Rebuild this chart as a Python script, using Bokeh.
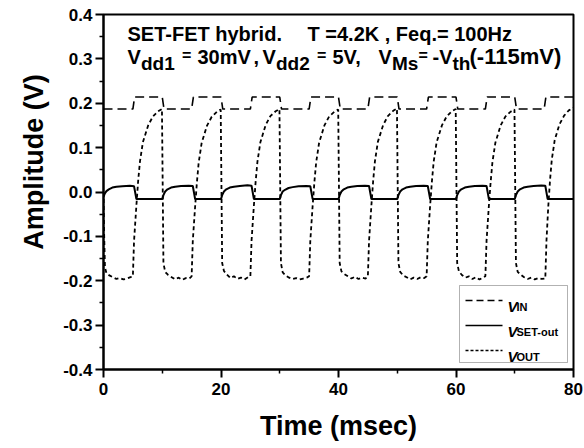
from bokeh.plotting import figure
from bokeh.models import Range1d, FixedTicker, PrintfTickFormatter, Label, BoxAnnotation, Arrow
from bokeh.embed import file_html
from bokeh.resources import INLINE

# ---------------- data ----------------
x_ticks = [0, 20, 40, 60, 80]
x_minor = [10, 30, 50, 70]
y_ticks = [-0.4, -0.3, -0.2, -0.1, 0.0, 0.1, 0.2, 0.3, 0.4]
y_minor = [-0.35, -0.25, -0.15, -0.05, 0.05, 0.15, 0.25, 0.35]

# V_IN (dashed square wave)
t_in = [0.0, 5.0, 5.3, 10.0, 10.3, 15.0, 15.3, 20.0, 20.3, 25.0, 25.3, 30.0, 30.3,
        35.0, 35.3, 40.0, 40.3, 45.0, 45.3, 50.0, 50.3, 55.0, 55.3, 60.0, 60.3,
        65.0, 65.3, 70.0, 70.3, 75.0, 75.3, 80.0]
v_in = [0.187, 0.187, 0.214, 0.214, 0.187, 0.187, 0.214, 0.214, 0.187, 0.187, 0.214, 0.214, 0.187,
        0.187, 0.214, 0.214, 0.187, 0.187, 0.214, 0.214, 0.187, 0.187, 0.214, 0.214, 0.187,
        0.187, 0.214, 0.214, 0.187, 0.187, 0.214, 0.214]

# V_SET-out (solid)
t_set = [0.0, 0.2, 0.5, 0.9, 1.5, 2.2, 3.2, 4.5, 5.2, 5.6,
         10.0, 10.2, 10.5, 10.9, 11.5, 12.2, 13.2, 14.5, 15.2, 15.6,
         20.0, 20.2, 20.5, 20.9, 21.5, 22.2, 23.2, 24.5, 25.2, 25.6,
         30.0, 30.2, 30.5, 30.9, 31.5, 32.2, 33.2, 34.5, 35.2, 35.6,
         40.0, 40.2, 40.5, 40.9, 41.5, 42.2, 43.2, 44.5, 45.2, 45.6,
         50.0, 50.2, 50.5, 50.9, 51.5, 52.2, 53.2, 54.5, 55.2, 55.6,
         60.0, 60.2, 60.5, 60.9, 61.5, 62.2, 63.2, 64.5, 65.2, 65.6,
         70.0, 70.2, 70.5, 70.9, 71.5, 72.2, 73.2, 74.5, 75.2, 75.6,
         80.0]
v_set = [-0.011, -0.004, 0.002, 0.006, 0.010, 0.012, 0.013, 0.014, 0.013, -0.016,
         -0.016, -0.007, 0.001, 0.006, 0.010, 0.012, 0.0135, 0.014, 0.0135, -0.016,
         -0.016, -0.007, 0.001, 0.006, 0.010, 0.012, 0.0135, 0.015, 0.014, -0.016,
         -0.016, -0.007, 0.001, 0.005, 0.009, 0.011, 0.013, 0.0135, 0.013, -0.016,
         -0.016, -0.007, 0.001, 0.006, 0.010, 0.012, 0.0135, 0.014, 0.0135, -0.016,
         -0.016, -0.007, 0.001, 0.006, 0.010, 0.012, 0.0135, 0.014, 0.0135, -0.016,
         -0.016, -0.007, 0.001, 0.006, 0.010, 0.012, 0.0135, 0.014, 0.0135, -0.016,
         -0.016, -0.007, 0.001, 0.006, 0.010, 0.012, 0.0135, 0.0145, 0.014, -0.016,
         -0.016]

# V_OUT (dotted)
t_out = [0.0, 0.1, 0.25, 0.5, 1.0, 1.6, 2.2, 2.8, 3.4, 4.0, 4.6, 5.0,
         5.2, 5.6, 5.9, 6.2, 6.7, 7.6, 8.4, 9.3, 9.95,
         10.05, 10.2, 10.5, 11.0, 11.6, 12.2, 12.8, 13.4, 14.0, 14.6, 15.0,
         15.2, 15.6, 15.9, 16.2, 16.7, 17.6, 18.4, 19.3, 19.95,
         20.05, 20.2, 20.5, 21.0, 21.6, 22.2, 22.8, 23.4, 24.0, 24.6, 25.0,
         25.2, 25.6, 25.9, 26.2, 26.7, 27.6, 28.4, 29.3, 29.95,
         30.05, 30.2, 30.5, 31.0, 31.6, 32.2, 32.8, 33.4, 34.0, 34.6, 35.0,
         35.2, 35.6, 35.9, 36.2, 36.7, 37.6, 38.4, 39.3, 39.95,
         40.05, 40.2, 40.5, 41.0, 41.6, 42.2, 42.8, 43.4, 44.0, 44.6, 45.0,
         45.2, 45.6, 45.9, 46.2, 46.7, 47.6, 48.4, 49.3, 49.95,
         50.05, 50.2, 50.5, 51.0, 51.6, 52.2, 52.8, 53.4, 54.0, 54.6, 55.0,
         55.2, 55.6, 55.9, 56.2, 56.7, 57.6, 58.4, 59.3, 59.95,
         60.05, 60.2, 60.5, 61.0, 61.6, 62.2, 62.8, 63.4, 64.0, 64.6, 65.0,
         65.2, 65.6, 65.9, 66.2, 66.7, 67.6, 68.4, 69.3, 69.95,
         70.05, 70.2, 70.5, 71.0, 71.6, 72.2, 72.8, 73.4, 74.0, 74.6, 75.2,
         75.4, 75.7, 76.0, 76.3, 76.8, 77.6, 78.4, 79.2, 80.0]
v_out = [0.0, -0.09, -0.17, -0.183, -0.188, -0.192, -0.196, -0.194, -0.197, -0.195, -0.192, -0.190,
         -0.11, -0.03, 0.025, 0.068, 0.112, 0.150, 0.170, 0.182, 0.187,
         0.05, -0.16, -0.180, -0.187, -0.192, -0.197, -0.193, -0.198, -0.194, -0.195, -0.190,
         -0.11, -0.032, 0.022, 0.066, 0.110, 0.149, 0.169, 0.181, 0.186,
         0.05, -0.16, -0.178, -0.186, -0.194, -0.190, -0.196, -0.193, -0.197, -0.192, -0.190,
         -0.11, -0.03, 0.024, 0.068, 0.112, 0.151, 0.171, 0.182, 0.187,
         0.05, -0.16, -0.181, -0.188, -0.193, -0.196, -0.194, -0.197, -0.195, -0.193, -0.190,
         -0.11, -0.031, 0.023, 0.067, 0.111, 0.150, 0.170, 0.181, 0.186,
         0.05, -0.16, -0.179, -0.185, -0.190, -0.195, -0.191, -0.196, -0.193, -0.195, -0.190,
         -0.11, -0.03, 0.025, 0.069, 0.113, 0.151, 0.171, 0.183, 0.188,
         0.05, -0.16, -0.180, -0.188, -0.192, -0.197, -0.193, -0.196, -0.192, -0.194, -0.190,
         -0.11, -0.03, 0.024, 0.068, 0.112, 0.150, 0.170, 0.182, 0.187,
         0.05, -0.16, -0.179, -0.187, -0.193, -0.190, -0.196, -0.192, -0.197, -0.193, -0.190,
         -0.11, -0.03, 0.023, 0.067, 0.111, 0.150, 0.170, 0.181, 0.186,
         0.05, -0.16, -0.180, -0.186, -0.192, -0.196, -0.193, -0.197, -0.194, -0.196, -0.195,
         -0.11, -0.034, 0.026, 0.072, 0.117, 0.152, 0.172, 0.184, 0.190]

# ---------------- figure ----------------
FONT = "Liberation Sans"
W, H = 584, 448
FX0, FX1, FY0, FY1 = 103, 573, 14, 369  # frame in page pixels

p = figure(width=W, height=H, output_backend="svg", toolbar_location=None,
           x_range=Range1d(0, 80), y_range=Range1d(-0.4, 0.4),
           min_border_left=FX0, min_border_right=W - FX1,
           min_border_top=FY0, min_border_bottom=H - FY1)
p.grid.visible = False
p.outline_line_color = "black"
p.outline_line_width = 2
p.background_fill_color = "white"
p.border_fill_color = "white"

p.xaxis.ticker = FixedTicker(ticks=x_ticks, minor_ticks=x_minor)
p.yaxis.ticker = FixedTicker(ticks=y_ticks, minor_ticks=y_minor)
p.yaxis.formatter = PrintfTickFormatter(format="%.1f")
for ax in (p.xaxis, p.yaxis):
    ax.axis_line_width = 2
    ax.major_tick_line_width = 2
    ax.minor_tick_line_width = 1.5
    ax.major_tick_out = 8
    ax.major_tick_in = 0
    ax.minor_tick_out = 4
    ax.minor_tick_in = 0
    ax.major_label_text_font = FONT
    ax.major_label_text_font_style = "bold"
    ax.major_label_text_font_size = "17px"
    ax.major_label_text_color = "black"
    ax.axis_label_text_font = FONT
    ax.axis_label_text_font_style = "bold"
    ax.axis_label_text_font_size = "27px"
    ax.axis_label_text_color = "black"
p.xaxis.axis_label = "Time (msec)"
# leading no-break spaces lift the visible title a little above the frame centre, as in the reference
p.yaxis.axis_label = "\u00a0" * 8 + "Amplitude (V)"
p.xaxis.major_label_standoff = 5
p.yaxis.major_label_standoff = 3
p.xaxis.axis_label_standoff = 13
p.yaxis.axis_label_standoff = 11

p.line(t_in, v_in, line_color="black", line_width=1.6, line_dash="9 5")
p.line(t_set, v_set, line_color="black", line_width=2)
p.line(t_out, v_out, line_color="black", line_width=1.8, line_dash="4 3")


# ---------------- annotations (pixel helpers relative to the frame) ----------------
def dx(px):
    return (px - FX0) / (FX1 - FX0) * 80


def dy(py):
    return 0.4 - (py - FY0) / (FY1 - FY0) * 0.8


def txt(s, px, py, size="20px", style="bold"):
    p.add_layout(Label(x=dx(px), y=dy(py), text=s, text_font=FONT, text_font_style=style,
                       text_font_size=size, text_color="black", text_baseline="alphabetic",
                       text_align="left"))


# header, line 1
txt("SET-FET hybrid.", 127, 33)
txt("T =4.2K , Feq.= 100Hz", 307, 33)
# header, line 2 (with subscripts)
MB, SB = 56, 63
SUB = "19px"
EQ = "16px"
txt("V", 127, MB)
txt("dd1", 140.5, SB, SUB)
txt("=", 181.5, MB - 1, EQ)
txt("30mV", 197, MB)
txt(",", 253, MB)
txt("V", 262, MB)
txt("dd2", 275.5, SB, SUB)
txt("=", 316.5, MB - 1, EQ)
txt("5V,", 332, MB)
txt("V", 378, MB)
txt("Ms", 391.5, SB, SUB)
txt("=", 418, MB - 1, EQ)
txt("-V", 432, MB)
txt("th", 452, SB, SUB)
txt("(-115mV)", 469, MB, "22px")

# legend
p.add_layout(BoxAnnotation(left=dx(459), right=dx(567), top=dy(285), bottom=dy(362),
                           fill_color="white", fill_alpha=1.0, line_color="black", line_width=1))
rows = [(300, "IN", "7 4"), (325, "SET-out", None), (350, "OUT", "3 2")]
for ry, sub, dash in rows:
    kw = dict(line_dash=dash) if dash else {}
    p.add_layout(Arrow(end=None, x_start=dx(465), y_start=dy(ry), x_end=dx(502), y_end=dy(ry),
                       line_color="black", line_width=1.5, **kw))
    txt("V", 507, ry + 6, "15px", "bold italic")
    txt(sub, 516, ry + 6, "11px", "bold")

open("out.html", "w").write(file_html(p, INLINE))
